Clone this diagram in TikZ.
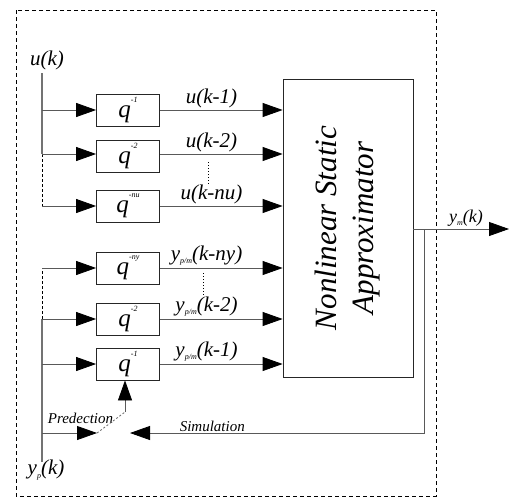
\documentclass[tikz,border=0pt]{standalone}
\usepackage{fontspec}
\setmainfont{Liberation Serif}
\usetikzlibrary{positioning,arrows.meta,calc}

\newcommand{\qexp}[1]{\textit{q}\raisebox{1.3ex}{\fontsize{8}{8}\selectfont\itshape #1}}
\newcommand{\ysub}[1]{\textit{y}\raisebox{-0.35ex}{\fontsize{8}{8}\selectfont\itshape #1}}

\begin{document}
\begin{tikzpicture}[x=1pt, y=-1pt,
    line width=0.8pt,
    delay/.style={draw=black!85, minimum width=63pt, minimum height=32pt,
      inner sep=0pt, font=\fontsize{25}{25}\selectfont\itshape},
    sig/.style={draw=black!65, -{Triangle[length=20pt,width=14pt,color=black]}},
    lbl/.style={font=\fontsize{21}{23}\selectfont\itshape, inner sep=2pt},
    small/.style={font=\fontsize{15}{17}\selectfont\itshape, inner sep=1pt},
    bus/.style={draw=black!55, line width=1.6pt}
  ]
    \useasboundingbox (0,0) rectangle (510,498);
    \draw[dashed, dash pattern=on 4pt off 3pt, line width=0.7pt] (16,10) rectangle (436,496);

    % static approximator
    \node[draw=black!85, minimum width=130pt, minimum height=298pt, inner sep=0pt] (nsa) at (348,228) {};
    \node[rotate=90, align=center, font=\fontsize{31}{37}\selectfont\itshape] at (nsa.center) {Nonlinear Static\\Approximator};

    % delay boxes
    \node[delay] (q1)  at (128,110) {\qexp{-1}};
    \node[delay] (q2)  at (128,156) {\qexp{-2}};
    \node[delay] (qnu) at (128,206) {\qexp{-nu}};
    \node[delay] (qny) at (128,268) {\qexp{-ny}};
    \node[delay] (qy2) at (128,319) {\qexp{-2}};
    \node[delay] (qy1) at (128,364) {\qexp{-1}};

    % input buses
    \coordinate (utop) at (42,73);
    \coordinate (umid) at (42,154);
    \coordinate (ubot) at (42,206);
    \coordinate (ytop) at (42,268);
    \coordinate (ymid) at (42,319);
    \coordinate (ybot) at (42,462);
    \coordinate (pr)   at (42,433);
    \node[lbl] (uk) at (47,60) {u(k)};
    \node[lbl] (yk) at (46,470) {\ysub{p}(k)};
    \draw[bus] (utop) -- (umid);
    \draw[dashed, dash pattern=on 3pt off 2pt] (umid) -- (ubot);
    \draw[bus] (ybot) -- (ymid);
    \draw[dashed, dash pattern=on 3pt off 2pt] (ymid) -- (ytop);

    \draw[sig] (utop |- q1) -- (q1.west);
    \draw[sig] (umid) -- (umid -| q2.west);
    \draw[sig] (ubot) -- (ubot -| qnu.west);
    \draw[sig] (ytop) -- (qny.west);
    \draw[sig] (ymid) -- (qy2.west);
    \draw[sig] (ybot |- qy1) -- (qy1.west);

    % delayed signals
    \draw[sig] (q1.east)  -- node[lbl, above, pos=0.42] {u(k-1)} (nsa.west |- q1);
    \draw[sig] (q2.east |- umid) -- node[lbl, above, pos=0.42] {u(k-2)} (nsa.west |- umid);
    \draw[sig] (qnu.east) -- node[lbl, above, pos=0.42] {u(k-nu)} (nsa.west |- qnu);
    \draw[sig] (qny.east) -- node[lbl, above, pos=0.38] {\ysub{p/m}(k-ny)} (nsa.west |- qny);
    \draw[sig] (qy2.east) -- node[lbl, above, pos=0.38] {\ysub{p/m}(k-2)} (nsa.west |- qy2);
    \draw[sig] (qy1.east) -- node[lbl, above, pos=0.38] {\ysub{p/m}(k-1)} (nsa.west |- qy1);
    \draw[dotted, line width=1pt] (208,162) -- (208,184);
    \draw[dotted, line width=1pt] (203,273) -- (203,295);

    % output and feedback
    \coordinate (fb) at (424,229);
    \coordinate (sw) at (130,433);
    \coordinate (pt) at (97,433);
    \coordinate (sp) at (125,412);
    \draw[sig] (nsa.east |- fb) -- node[lbl, above, pos=0.55, font=\fontsize{18}{20}\selectfont\itshape] {\ysub{m}(k)} (509,229);
    \draw[sig] (fb) |- node[small, above, pos=0.86] {Simulation} (sw);
    \draw[sig] (pr) -- node[small, above, pos=0.7, yshift=8pt] {Predection} (pt);
    \draw[dashed, dash pattern=on 2pt off 2pt, draw=black!60] (pt) -- (sp);
    \draw[sig] (sp) -- (qy1.south -| sp);
\end{tikzpicture}
\end{document}
